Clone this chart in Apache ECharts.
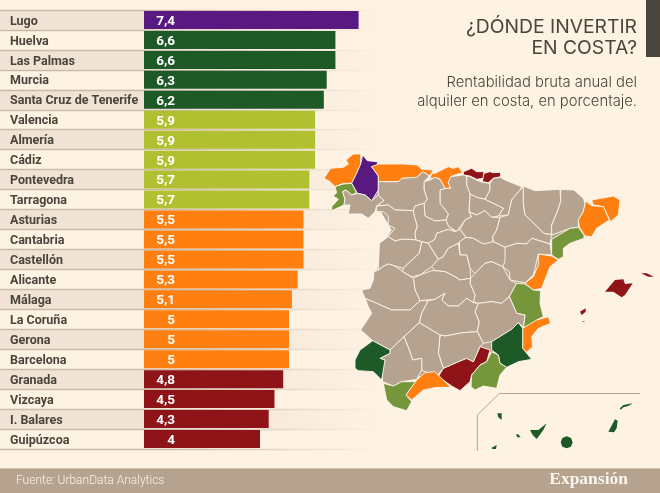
<!DOCTYPE html>
<html><head><meta charset="utf-8">
<style>html,body{margin:0;padding:0;background:#fef2e3}#c{width:660px;height:493px}</style>
<script src="https://cdn.jsdelivr.net/npm/echarts@6/dist/echarts.min.js"></script>
</head><body><div id="c"></div>
<script>
const categories=["Lugo","Huelva","Las Palmas","Murcia","Santa Cruz de Tenerife","Valencia","Almería","Cádiz","Pontevedra","Tarragona","Asturias","Cantabria","Castellón","Alicante","Málaga","La Coruña","Gerona","Barcelona","Granada","Vizcaya","I. Balares","Guipúzcoa"];
const values=[7.4,6.6,6.6,6.3,6.2,5.9,5.9,5.9,5.7,5.7,5.5,5.5,5.5,5.3,5.1,5,5,5,4.8,4.5,4.3,4];
const tierFloors=[7,6,5.6,5,0];
const barColors=["#581a80","#1e5a28","#b0c030","#ff7f11","#8e1418"];
const mapColors=["#581a80","#1e5a28","#76963c","#ff7f11","#8e1418"];
const provinceGrey="#b5a38f";
const islandNames=["I. Balares","Las Palmas","Santa Cruz de Tenerife"];
const provinces={
"Interior":[[[180,135],[300,125],[440,120],[600,150],[780,180],[770,260],[690,300],[690,340],[640,400],[620,430],[655,470],[600,540],[600,620],[500,640],[450,700],[350,700],[290,710],[190,720],[200,650],[130,570],[165,520],[140,470],[170,400],[185,320],[215,270],[180,210],[120,215],[95,200],[120,170]]],
"La Coruña":[[[12,115],[32,85],[70,82],[85,72],[78,60],[100,42],[122,42],[122,72],[110,100],[95,130],[70,130],[45,140],[30,125]]],
"Lugo":[[[128,45],[142,62],[172,65],[172,78],[155,80],[175,108],[175,150],[155,182],[135,165],[112,160],[95,130],[110,100],[122,72]]],
"Pontevedra":[[[45,140],[70,132],[95,130],[110,158],[95,165],[78,150],[68,155],[75,178],[72,195],[35,212],[35,200],[55,178],[40,168],[50,158]]],
"Ourense":[[[68,155],[78,150],[95,165],[112,160],[135,165],[155,182],[175,165],[192,182],[170,198],[165,215],[145,235],[125,222],[85,222],[90,195],[72,195],[75,178]]],
"Asturias":[[[155,80],[175,72],[250,72],[292,75],[305,88],[340,90],[328,108],[310,95],[290,112],[245,115],[235,125],[175,125],[175,108]]],
"Cantabria":[[[335,100],[345,100],[385,80],[400,85],[415,80],[428,98],[395,108],[385,128],[392,145],[375,145],[360,118],[345,112],[330,118]]],
"Vizcaya":[[[430,95],[455,85],[470,95],[492,95],[490,115],[470,118],[450,108],[430,105]]],
"Guipúzcoa":[[[492,100],[510,95],[520,98],[542,97],[542,110],[520,115],[505,128],[487,125]]],
"Álava":[[[440,108],[450,110],[470,120],[487,127],[510,130],[510,150],[495,178],[470,172],[450,162],[440,135]]],
"Navarra":[[[520,115],[542,112],[555,120],[605,140],[600,150],[575,180],[565,225],[535,228],[550,205],[495,178],[510,150],[510,130]]],
"La Rioja":[[[450,162],[470,172],[495,178],[550,205],[535,228],[515,232],[495,212],[470,225],[447,215]]],
"Burgos":[[[392,110],[430,105],[440,108],[440,135],[450,162],[447,215],[455,230],[435,240],[410,275],[385,258],[378,240],[385,222],[360,190],[360,150],[375,145],[392,145],[385,128]]],
"Palencia":[[[312,125],[330,120],[345,112],[360,118],[375,145],[360,150],[360,190],[385,222],[378,240],[345,243],[315,228],[312,190],[322,178],[312,150]]],
"León":[[[175,125],[235,125],[245,115],[290,112],[310,95],[328,108],[312,125],[312,150],[322,178],[312,190],[285,198],[280,212],[225,210],[205,195],[170,198],[192,182],[175,165],[175,150]]],
"Zamora":[[[170,198],[205,195],[225,210],[280,212],[285,235],[292,258],[285,280],[288,300],[270,298],[245,298],[225,303],[205,290],[225,265],[205,255],[205,228],[190,215],[170,215]]],
"Valladolid":[[[285,198],[312,190],[315,228],[345,243],[378,240],[385,258],[405,275],[385,268],[350,280],[345,298],[325,310],[305,305],[288,300],[285,280],[292,258],[285,235],[280,212]]],
"Salamanca":[[[205,290],[225,303],[245,298],[270,298],[288,300],[305,305],[298,340],[270,365],[250,385],[225,378],[205,372],[188,380],[175,390],[178,310]]],
"Ávila":[[[305,305],[325,310],[355,358],[335,380],[300,405],[275,410],[248,395],[250,385],[270,365],[298,340]]],
"Segovia":[[[325,310],[345,298],[350,280],[385,268],[405,275],[420,268],[438,292],[415,310],[385,325],[370,350],[355,358]]],
"Soria":[[[447,215],[470,225],[495,212],[515,232],[540,232],[530,270],[518,290],[518,312],[490,312],[460,295],[438,292],[420,268],[435,240],[455,230]]],
"Zaragoza":[[[575,180],[600,150],[610,140],[610,190],[615,225],[650,258],[672,280],[695,283],[690,312],[635,295],[620,312],[590,310],[555,322],[520,305],[518,290],[530,270],[540,232],[565,225]]],
"Huesca":[[[610,138],[645,152],[720,148],[722,185],[712,215],[695,255],[695,283],[672,280],[650,258],[615,225],[610,190]]],
"Lérida":[[[722,148],[762,150],[790,175],[795,190],[790,215],[775,240],[775,262],[750,265],[695,285],[695,255],[712,215],[722,185]]],
"Gerona":[[[815,180],[880,168],[900,180],[895,225],[872,245],[850,200],[820,195]]],
"Barcelona":[[[797,183],[815,197],[850,200],[868,240],[830,265],[815,290],[795,288],[778,262],[775,240],[790,215]]],
"Tarragona":[[[775,262],[792,285],[792,295],[750,310],[730,325],[730,350],[715,358],[695,345],[695,298],[750,265]]],
"Castellón":[[[655,342],[695,348],[715,360],[690,380],[665,445],[640,450],[615,430],[640,410],[655,375]]],
"Teruel":[[[555,322],[590,310],[620,312],[635,295],[690,312],[695,345],[655,342],[640,405],[615,428],[570,420],[568,395],[548,380]]],
"Guadalajara":[[[418,305],[438,292],[460,295],[490,312],[520,305],[555,322],[555,365],[548,380],[515,365],[495,370],[465,400],[450,385],[440,345],[420,345]]],
"Madrid":[[[415,310],[420,345],[440,345],[450,385],[452,415],[420,420],[405,410],[375,395],[345,392],[335,380],[355,358],[370,350],[385,325]]],
"Cuenca":[[[452,415],[465,400],[495,370],[515,365],[548,380],[570,420],[590,430],[568,470],[545,490],[515,485],[475,490],[460,485],[465,465],[450,430]]],
"Toledo":[[[280,415],[300,405],[335,392],[345,392],[375,395],[405,410],[420,420],[452,415],[450,430],[465,465],[460,488],[440,475],[415,498],[385,498],[365,480],[375,460],[345,478],[300,482],[285,450]]],
"Cáceres":[[[162,395],[175,390],[188,380],[205,372],[225,378],[248,395],[280,415],[285,450],[300,482],[270,510],[215,510],[170,490],[135,475],[125,450],[150,445],[160,420]]],
"Valencia":[[[590,430],[615,432],[640,450],[662,452],[660,490],[670,530],[650,540],[652,552],[610,562],[615,525],[590,520],[568,470]]],
"Alicante":[[[650,540],[685,530],[692,550],[655,565],[635,590],[638,620],[620,637],[608,625],[608,565]]],
"Badajoz":[[[135,475],[170,490],[215,510],[270,510],[300,482],[325,482],[305,520],[298,548],[252,590],[210,630],[158,602],[122,570],[155,520],[145,500]]],
"Ciudad Real":[[[325,482],[345,478],[375,460],[365,480],[385,498],[415,498],[440,475],[460,488],[475,490],[465,515],[478,545],[472,575],[430,578],[375,588],[360,585],[298,548],[305,520]]],
"Albacete":[[[475,490],[515,485],[545,490],[568,470],[590,520],[615,525],[610,562],[608,565],[595,548],[575,568],[515,605],[490,610],[472,575],[478,545],[465,515]]],
"Murcia":[[[515,605],[575,568],[595,548],[608,565],[608,625],[620,640],[635,658],[595,665],[560,682],[540,670],[535,645],[515,630]]],
"Granada":[[[480,620],[510,630],[500,665],[480,675],[455,705],[450,725],[420,752],[395,738],[355,710],[370,685],[415,665],[440,655],[460,665]]],
"Almería":[[[515,635],[535,645],[540,670],[560,682],[540,705],[530,745],[490,738],[465,750],[453,740],[455,705],[480,675],[500,665]]],
"Jaén":[[[360,585],[375,588],[430,578],[472,575],[490,610],[480,620],[460,665],[440,655],[415,665],[370,685],[355,640]]],
"Córdoba":[[[252,590],[298,548],[360,585],[355,640],[370,685],[352,705],[315,695],[305,690],[305,655],[278,660],[268,630]]],
"Sevilla":[[[210,630],[252,590],[268,630],[278,660],[305,655],[305,690],[290,718],[245,725],[220,738],[188,725],[185,695],[195,660],[180,655],[210,640]]],
"Huelva":[[[158,602],[210,630],[210,640],[180,655],[195,660],[185,720],[160,695],[115,692],[105,685],[105,660],[120,630]]],
"Cádiz":[[[190,730],[220,738],[245,725],[288,725],[258,765],[275,785],[260,812],[220,800],[200,780]]],
"Málaga":[[[315,698],[345,695],[392,742],[350,742],[310,750],[275,780],[258,765],[290,720]]],
"I. Balares":[[[855,455],[885,420],[910,418],[915,432],[938,430],[915,465],[905,472],[880,455]],[[963,400],[980,400],[1002,410],[985,410]],[[780,515],[797,505],[797,515],[785,525]],[[788,543],[796,543],[796,546],[788,546]]],
"Las Palmas":[[[900,805],[910,795],[938,790],[925,798],[910,802],[902,810]],[[865,875],[885,838],[893,842],[890,865],[882,877]],[[722,907],[727,894],[740,889],[753,894],[758,907],[753,920],[740,925],[727,920]]],
"Santa Cruz de Tenerife":[[[630,870],[655,870],[680,850],[670,870],[650,897],[638,885]],[[588,883],[595,883],[602,892],[592,892]],[[532,820],[545,820],[545,840],[535,832]],[[515,923],[530,915],[528,927],[517,927]]]
};
const tierOf=v=>tierFloors.findIndex(f=>v>=f);
const pts=Object.values(provinces).flat(2);
const xs=pts.map(p=>p[0]),ys=pts.map(p=>p[1]);
const minX=Math.min(...xs),maxX=Math.max(...xs),minY=Math.min(...ys),maxY=Math.max(...ys);
echarts.registerMap('spain',{type:'FeatureCollection',features:Object.entries(provinces).map(([name,polys])=>({type:'Feature',properties:{name},geometry:{type:'MultiPolygon',coordinates:polys.map(r=>[r.concat([r[0]]).map(p=>[p[0],-p[1]])])}}))});
const grad=(c0,c1)=>new echarts.graphic.LinearGradient(0,0,660,0,[{offset:0,color:c0},{offset:.25,color:c0},{offset:.58,color:c1}],true);
const chart=echarts.init(document.getElementById('c'),null,{renderer:'canvas'});
const bodyFont='Roboto,sans-serif';
const lightFont='Inter,"Open Sans",sans-serif';
chart.setOption({
 animation:false,backgroundColor:'#fef2e3',
 grid:{left:0,right:0,top:10,height:439},
 xAxis:{type:'value',min:-4.966,max:17.793,show:false,splitLine:{show:false}},
 yAxis:{type:'category',inverse:true,data:categories,
  axisLine:{show:false,onZero:false},axisTick:{show:false},
  axisLabel:{inside:true,margin:10,align:'left',formatter:v=>'{t|'+v+'}',
   rich:{t:{color:'#4a453c',fontFamily:bodyFont,fontWeight:'bold',fontSize:12.5,padding:[3,0,0,0]}}},
  splitLine:{show:true,lineStyle:{color:grad('#c9baa9','rgba(201,186,169,0)'),width:1.3}},
  splitArea:{show:true,areaStyle:{color:[grad('#f0e3d5','rgba(240,227,213,0)'),'rgba(0,0,0,0)']}}},
 series:[
  {type:'bar',barWidth:18,z:3,silent:true,
   data:values.map(v=>({value:v,itemStyle:{color:barColors[tierOf(v)]}})),
   label:{show:true,position:'insideLeft',distance:31,align:'right',color:'#fff',fontFamily:bodyFont,fontWeight:'bold',fontSize:13.5,offset:[0,1.5],
    formatter:p=>String(p.value).replace('.',',')}},
  {type:'map',map:'spain',silent:true,z:4,aspectScale:1,roam:false,
   left:320+minX/3,top:140+minY/3,width:(maxX-minX)/3,height:(maxY-minY)/3,
   label:{show:false},emphasis:{disabled:true},select:{disabled:true},
   itemStyle:{areaColor:provinceGrey,borderColor:'#fdf6ec',borderWidth:0.9},
   data:[{name:'Interior',itemStyle:{borderWidth:0}}].concat(categories.map((n,i)=>({name:n,value:values[i],itemStyle:{areaColor:mapColors[tierOf(values[i])],borderWidth:islandNames.includes(n)?0:0.9}})))}
 ],
 graphic:[
  {type:'rect',shape:{x:646,y:0,width:14,height:57},style:{fill:'#4a453c'},z:10},
  {type:'rect',shape:{x:0,y:468,width:660,height:25},style:{fill:'#b5a38f'},z:10},
  {type:'rect',shape:{x:0,y:468,width:660,height:1},style:{fill:'#d4c6b5'},z:10},
  {type:'polyline',shape:{points:[[477.3,451],[477.3,415],[499.3,393.5],[640,393.5]]},style:{stroke:'#b5a38f',lineWidth:1,fill:null},z:10},
  {type:'text',z:11,x:637,y:27,style:{text:'¿DÓNDE INVERTIR',align:'right',verticalAlign:'middle',font:'400 19.3px '+lightFont,fill:'#4a453c'}},
  {type:'text',z:11,x:637,y:48,style:{text:'EN COSTA?',align:'right',verticalAlign:'middle',font:'400 19.3px '+lightFont,fill:'#4a453c'}},
  {type:'text',z:11,x:637,y:83,style:{text:'Rentabilidad bruta anual del',align:'right',verticalAlign:'middle',font:'300 14.8px '+lightFont,fill:'#4a453c'}},
  {type:'text',z:11,x:637,y:102,style:{text:'alquiler en costa, en porcentaje.',align:'right',verticalAlign:'middle',font:'300 14.8px '+lightFont,fill:'#4a453c'}},
  {type:'text',z:11,x:16,y:481,style:{text:'Fuente: UrbanData Analytics',verticalAlign:'middle',font:'300 12px Roboto,sans-serif',fill:'#fef2e3'}},
  {type:'text',z:11,x:628,y:479,style:{text:'Expansión',align:'right',verticalAlign:'middle',font:'bold 17.5px "Liberation Serif",serif',fill:'#fbf5ec'}}
 ]
});
</script></body></html>
